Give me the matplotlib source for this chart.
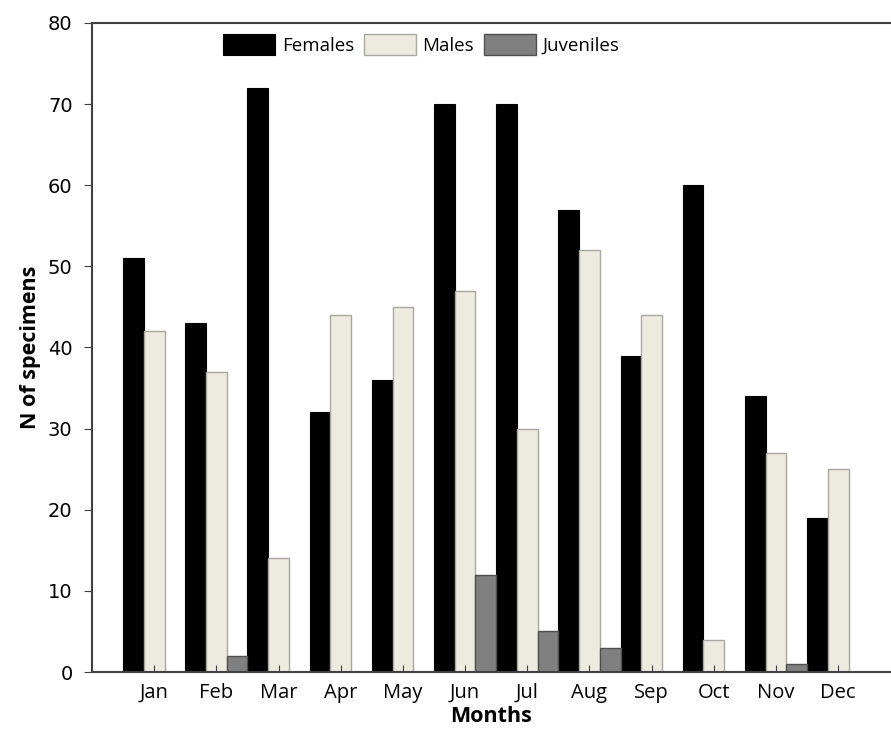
import matplotlib.pyplot as plt
import numpy as np

months = ['Jan', 'Feb', 'Mar', 'Apr', 'May', 'Jun', 'Jul', 'Aug', 'Sep', 'Oct', 'Nov', 'Dec']
females = [51, 43, 72, 32, 36, 70, 70, 57, 39, 60, 34, 19]
males = [42, 37, 14, 44, 45, 47, 30, 52, 44, 4, 27, 25]
juveniles = [0, 2, 0, 0, 0, 12, 5, 3, 0, 0, 1, 0]

fig = plt.figure(figsize=(8.91, 7.48), dpi=100)
ax = fig.add_axes([0.1033, 0.1016, 0.8967, 0.8677])

x = np.arange(len(months))
w = 1 / 3
ax.bar(x - w, females, w, color='black', edgecolor='black', linewidth=0.8, label='Females')
ax.bar(x, males, w, color='#edebe0', edgecolor='#a8a8a0', linewidth=1.0, label='Males')
ax.bar(x + w, juveniles, w, color='#808080', edgecolor='#505050', linewidth=1.0, label='Juveniles')

ax.set_xlim(-1.0, 11.85)
ax.set_ylim(0, 80)
ax.set_yticks(range(0, 81, 10))
ax.set_xticks(x)
ax.set_xticklabels(months, family='Open Sans', fontsize=14.5)
for lab in ax.get_yticklabels():
    lab.set_family('DejaVu Sans')
    lab.set_fontsize(14)

ax.tick_params(axis='x', direction='in', length=5, color='#404040', pad=8)
ax.tick_params(axis='y', direction='out', length=6, color='#404040', pad=8)

ax.spines['right'].set_visible(False)
for s in ['left', 'top', 'bottom']:
    ax.spines[s].set_color('#404040')
    ax.spines[s].set_linewidth(1.5)

ax.set_xlabel('Months', family='Open Sans', fontsize=15.5, fontweight='bold', labelpad=2)
ax.set_ylabel('N of specimens', family='Open Sans', fontsize=15.5, fontweight='bold', labelpad=5)

ax.legend(loc='upper center', bbox_to_anchor=(0.412, 1.0), ncol=3, frameon=False,
          prop={'family': 'Open Sans', 'size': 13.5}, handlelength=2.8, handleheight=1.3,
          handletextpad=0.35, columnspacing=0.5, borderaxespad=0.2)

fig.savefig('out.png', dpi=100)
